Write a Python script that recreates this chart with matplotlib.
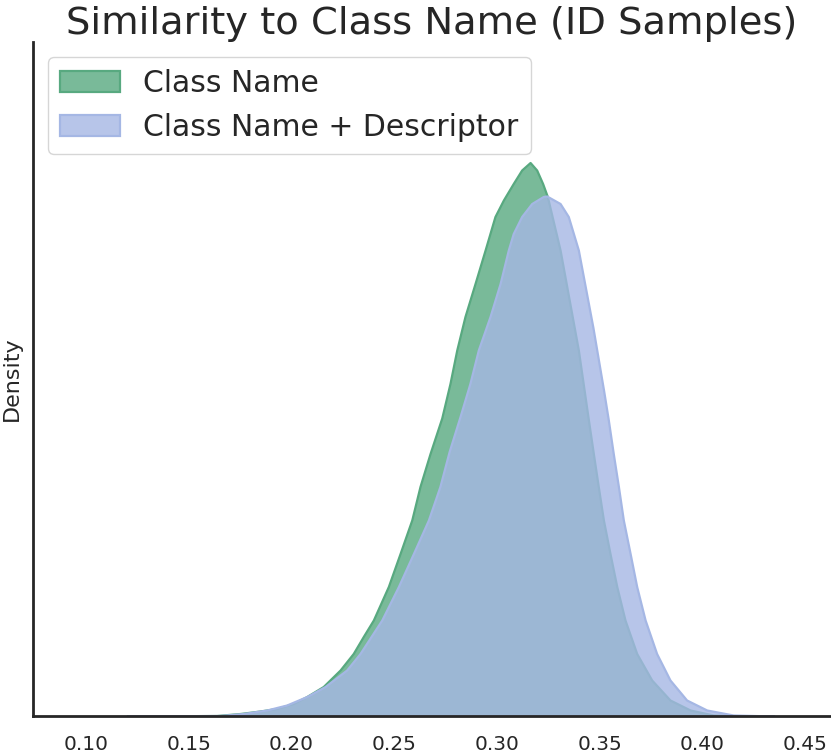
import numpy as np
import matplotlib
matplotlib.use("Agg")
import matplotlib.pyplot as plt

# Similarity values (x) and estimated KDE densities
x_name = [0.120, 0.1636, 0.1750, 0.1847, 0.1928, 0.2009, 0.2075, 0.2155, 0.2237, 0.2301,
          0.2350, 0.2399, 0.2472, 0.2529, 0.2586, 0.2626, 0.2675, 0.2732, 0.2772, 0.2805,
          0.2845, 0.2894, 0.2943, 0.2991, 0.3032, 0.3080, 0.3121, 0.3162, 0.3194, 0.3223,
          0.3246, 0.3308, 0.3397, 0.3446, 0.3470, 0.3494, 0.3519, 0.3551, 0.3584, 0.3624,
          0.3681, 0.3754, 0.3843, 0.3941, 0.4054, 0.420]
d_name = [0.0, 0.01, 0.05, 0.10, 0.15, 0.25, 0.39, 0.59, 0.92, 1.25,
          1.59, 1.92, 2.59, 3.25, 3.92, 4.59, 5.25, 5.96, 6.65, 7.32,
          7.99, 8.65, 9.32, 9.99, 10.32, 10.65, 10.92, 11.07, 10.92, 10.65,
          10.39, 9.32, 7.32, 5.92, 5.25, 4.59, 3.92, 3.25, 2.59, 1.92,
          1.25, 0.72, 0.32, 0.12, 0.02, 0.0]

x_desc = [0.120, 0.1652, 0.1766, 0.1880, 0.1977, 0.2075, 0.2164, 0.2269, 0.2334, 0.2440,
          0.2521, 0.2594, 0.2667, 0.2723, 0.2768, 0.2821, 0.2869, 0.2910, 0.2967, 0.3016,
          0.3056, 0.3080, 0.3121, 0.3170, 0.3226, 0.3243, 0.3308, 0.3348, 0.3397, 0.3468,
          0.3520, 0.3543, 0.3567, 0.3592, 0.3616, 0.3649, 0.3681, 0.3722, 0.3778, 0.3843,
          0.3924, 0.4022, 0.4151, 0.435]
d_desc = [0.0, 0.01, 0.05, 0.12, 0.22, 0.39, 0.59, 0.92, 1.25, 1.92,
          2.59, 3.25, 3.92, 4.59, 5.29, 5.99, 6.65, 7.32, 7.99, 8.65,
          9.32, 9.65, 9.99, 10.25, 10.39, 10.40, 10.25, 9.99, 9.32, 7.77,
          6.51, 5.92, 5.25, 4.59, 3.92, 3.25, 2.59, 1.92, 1.25, 0.72,
          0.32, 0.12, 0.02, 0.0]

labels = ["Class Name", "Class Name + Descriptor"]
colors = ["#58A980", "#A5B7E4"]
xticks = [0.10, 0.15, 0.20, 0.25, 0.30, 0.35, 0.40, 0.45]

plt.rcParams['font.family'] = ['DejaVu Sans']
fig = plt.figure(figsize=(8.31, 7.56), dpi=100)
ax = fig.add_axes([33/831, 1 - 716/756, 1 - 33/831, (716 - 42)/756])

for xs, ds, c, lab in [(x_name, d_name, colors[0], labels[0]),
                       (x_desc, d_desc, colors[1], labels[1])]:
    xs = np.asarray(xs); ds = np.asarray(ds)
    ax.fill_between(xs, 0, ds, facecolor=matplotlib.colors.to_rgba(c, 0.8),
                    edgecolor=c, linewidth=1.6, label=lab)

ax.set_xlim(0.0742, 0.4627)
ax.set_ylim(0, 13.48)
ax.set_xticks(xticks)
ax.set_xticklabels([f"{t:.2f}" for t in xticks], fontsize=14.5, color="#262626")
ax.set_yticks([])
ax.tick_params(axis='x', length=0, pad=14)
ax.set_ylabel("Density", fontsize=16, color="#262626", labelpad=8)
ax.set_title("Similarity to Class Name (ID Samples)", fontsize=27.7, color="#262626", pad=3)
for s in ["top", "right"]:
    ax.spines[s].set_visible(False)
for s in ["left", "bottom"]:
    ax.spines[s].set_color("#262626")
    ax.spines[s].set_linewidth(2.0)

leg = ax.legend(loc="upper left", fontsize=21.5, frameon=True, handlelength=2.0,
                borderaxespad=0.5, labelcolor="#262626")
leg.get_frame().set_edgecolor("#cccccc")

fig.savefig("out.png", dpi=100)
